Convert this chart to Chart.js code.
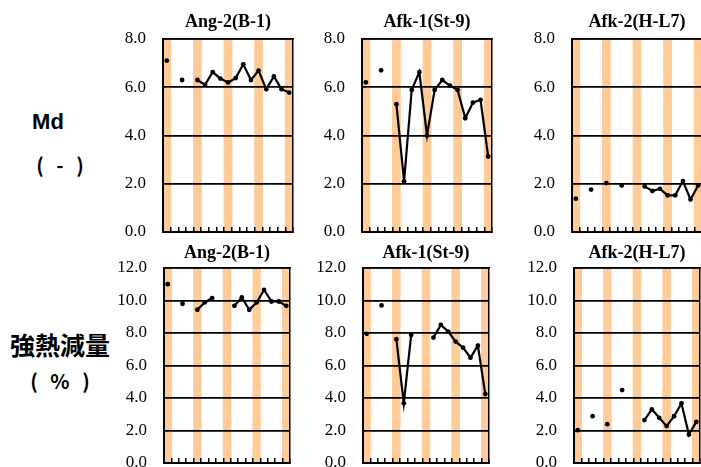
<!DOCTYPE html>
<html>
<head>
<meta charset="utf-8">
<script src="https://cdn.jsdelivr.net/npm/chart.js@4.4.1/dist/chart.umd.min.js"></script>
<style>
    html, body { margin: 0; padding: 0; background: #fff; overflow: hidden; }
    body { position: relative; width: 701px; height: 467px; }
    canvas { position: absolute; }
    .side { position: absolute; color: #000; white-space: nowrap; text-align: center; line-height: 1; }
</style>
</head>
<body>
<div class="side" style="left:0px; top:109px; width:96px; font: bold 22px 'Liberation Sans Narrow', 'Liberation Sans', sans-serif;">Md</div>
<div class="side" style="left:0px; top:150px; width:120px; word-spacing:8px; font: bold 20px 'Noto Sans CJK JP', sans-serif;">( - )</div>
<div class="side" style="left:0px; top:326px; width:120px; font: bold 25px 'Noto Sans CJK JP', sans-serif;">強熱減量</div>
<div class="side" style="left:0px; top:366px; width:120px; word-spacing:8px; font: bold 20px 'Noto Sans CJK JP', sans-serif;">( % )</div>

<script>
// 採取回（17回、ラベルは非表示）
const categories = ['1', '2', '3', '4', '5', '6', '7', '8', '9', '10', '11', '12', '13', '14', '15', '16', '17'];

// オレンジの帯を置く回
const bandIndex = [0, 4, 8, 12, 16];

// 縦軸の目盛
const mdTicks = [0, 2, 4, 6, 8];
const loiTicks = [0, 2, 4, 6, 8, 10, 12];

// Md (-)
const mdAng2 = [7.1, null, 6.3, null, 6.3, 6.1, 6.63, 6.36, 6.2, 6.38, 6.95, 6.3, 6.69, 5.92, 6.45, 5.92, 5.78];
const mdAfk1 = [6.2, null, 6.7, null, 5.3, 2.1, 5.89, 6.63, 4.0, 5.89, 6.3, 6.07, 5.89, 4.72, 5.36, 5.48, 3.13];
const mdAfk2 = [1.38, null, 1.76, null, 2.03, null, 1.93, null, null, 1.89, 1.7, 1.79, 1.52, 1.52, 2.11, 1.35, 1.93];

// 強熱減量 (%)
const loiAng2 = [11.0, null, 9.8, null, 9.43, 9.88, 10.15, null, null, 9.67, 10.19, 9.43, 9.88, 10.66, 9.94, 9.94, 9.67];
const loiAfk1 = [7.95, null, 9.7, null, 7.62, 3.67, 7.88, null, null, 7.72, 8.5, 8.09, 7.47, 7.1, 6.48, 7.22, 4.24];
const loiAfk2 = [2.02, null, 2.88, null, 2.39, null, 4.49, null, null, 2.64, 3.3, 2.78, 2.27, 2.88, 3.67, 1.75, 2.53];

const BAND_COLOR = '#FFCC99';
const Y_AXIS_W = 63;
const TITLE_SIZE = 18;
// 縦軸ラベルの余白(ラベル半分の高さ + padding)より大きくしておく
const BOTTOM_PAD = 28;

Chart.defaults.font.family = "'Liberation Serif', 'Times New Roman', serif";
Chart.defaults.color = '#000';

/**
 * パネルを1つ作成
 * area: プロット領域 {x0, x1, y0, y1}, titleY: タイトル中心の y
 */
function createPanel(title, values, ticks, area, canvasTop, titleY) {
    const left = area.x0 - Y_AXIS_W;
    const width = area.x1 + 4 - left;
    const height = area.y1 + BOTTOM_PAD - canvasTop;
    const topH = area.y0 - canvasTop;
    const lh = TITLE_SIZE * 1.2;
    const padTop = titleY - canvasTop - lh / 2;
    const padBottom = topH - lh - padTop;

    const canvas = document.createElement('canvas');
    canvas.width = width;
    canvas.height = height;
    canvas.style.left = left + 'px';
    canvas.style.top = canvasTop + 'px';
    document.body.appendChild(canvas);

    const yMax = ticks[ticks.length - 1];
    const bands = categories.map((c, i) => bandIndex.includes(i) ? yMax : null);

    new Chart(canvas, {
        type: 'bar',
        data: {
            labels: categories,
            datasets: [{
                type: 'line',
                data: values,
                borderColor: '#000',
                borderWidth: 2.2,
                pointRadius: 2.4,
                pointBackgroundColor: '#000',
                pointBorderWidth: 0,
                spanGaps: false,
                tension: 0,
                order: 0,
                xAxisID: 'x',
                yAxisID: 'y'
            }, {
                type: 'bar',
                data: bands,
                backgroundColor: BAND_COLOR,
                borderWidth: 0,
                barPercentage: 1.15,
                categoryPercentage: 1,
                order: 1,
                xAxisID: 'x',
                yAxisID: 'y'
            }]
        },
        options: {
            responsive: false,
            animation: false,
            events: [],
            layout: { padding: { left: 0, right: 4, top: 0, bottom: BOTTOM_PAD } },
            plugins: {
                legend: { display: false },
                tooltip: { enabled: false }
            },
            scales: {
                x: {
                    type: 'category',
                    position: 'bottom',
                    offset: true,
                    ticks: { display: false },
                    grid: {
                        offset: true,
                        drawOnChartArea: false,
                        drawTicks: true,
                        tickLength: -5,
                        color: '#000',
                        lineWidth: 1.5,
                        z: 1
                    },
                    border: { display: true, color: '#000', width: 2, z: 1 },
                    afterFit: function(s) { s.height = 0; }
                },
                xTop: {
                    type: 'category',
                    position: 'top',
                    offset: true,
                    ticks: { display: false },
                    grid: { display: false, drawTicks: false },
                    border: { display: true, color: '#000', width: 1.5, z: 1 },
                    title: {
                        display: true,
                        text: title,
                        color: '#000',
                        font: { size: TITLE_SIZE, weight: 'bold', lineHeight: 1.2 },
                        padding: { top: padTop, bottom: padBottom }
                    },
                    afterFit: function(s) { s.height = topH; }
                },
                y: {
                    position: 'left',
                    min: ticks[0],
                    max: yMax,
                    afterBuildTicks: function(s) {
                        s.ticks = ticks.map(v => ({ value: v }));
                    },
                    ticks: {
                        padding: 17,
                        font: { size: 17 },
                        color: '#000',
                        callback: function(value) { return Number(value).toFixed(1); }
                    },
                    grid: { color: '#000', lineWidth: 1.7, drawTicks: false, z: 1 },
                    border: { display: true, color: '#000', width: 2, z: 1 },
                    afterFit: function(s) { s.width = Y_AXIS_W; }
                },
                yRight: {
                    position: 'right',
                    min: ticks[0],
                    max: yMax,
                    ticks: { display: false },
                    grid: { display: false, drawTicks: false },
                    border: { display: true, color: '#000', width: 1.5, z: 1 },
                    afterFit: function(s) { s.width = 0; }
                }
            }
        }
    });
}

document.addEventListener('DOMContentLoaded', function() {
    // 上段: Md
    createPanel('Ang-2(B-1)', mdAng2, mdTicks, { x0: 163, x1: 293, y0: 39, y1: 232 }, 0, 22);
    createPanel('Afk-1(St-9)', mdAfk1, mdTicks, { x0: 362, x1: 492, y0: 39, y1: 232 }, 0, 22);
    createPanel('Afk-2(H-L7)', mdAfk2, mdTicks, { x0: 572, x1: 702, y0: 39, y1: 232 }, 0, 22);

    // 下段: 強熱減量
    createPanel('Ang-2(B-1)', loiAng2, loiTicks, { x0: 164, x1: 290, y0: 268, y1: 463 }, 236, 253);
    createPanel('Afk-1(St-9)', loiAfk1, loiTicks, { x0: 363, x1: 489, y0: 268, y1: 463 }, 236, 253);
    createPanel('Afk-2(H-L7)', loiAfk2, loiTicks, { x0: 574, x1: 700, y0: 268, y1: 463 }, 236, 253);
});
</script>
</body>
</html>
